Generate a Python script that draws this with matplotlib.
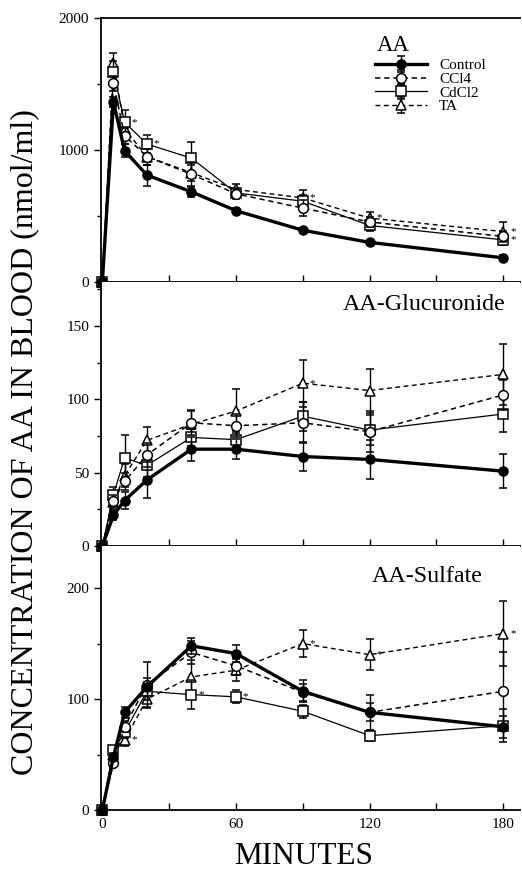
import matplotlib
matplotlib.use("Agg")
import matplotlib.pyplot as plt
from matplotlib.ticker import MultipleLocator

plt.rcParams['font.family'] = ['Liberation Serif', 'DejaVu Serif']

times = [0, 5, 10, 20, 40, 60, 90, 120, 180]
series_names = ["Control", "CCl4", "CdCl2", "TA"]

# Panel 1: AA
aa_control = [0, 1363, 994, 810, 683, 540, 392, 300, 183]
aa_ccl4 = [0, 1504, 1108, 950, 816, 668, 560, 455, 345]
aa_cdcl2 = [0, 1592, 1210, 1045, 938, 675, 612, 428, 319]
aa_ta = [0, 1657, 1160, 950, 828, 701, 637, 484, 382]
aa_control_err = [0, 40, 50, 80, 40, 20, 20, 20, 20]
aa_ccl4_err = [0, 60, 60, 60, 90, 40, 60, 40, 40]
aa_cdcl2_err = [0, 80, 90, 65, 120, 30, 50, 40, 40]
aa_ta_err = [0, 80, 70, 60, 60, 40, 60, 50, 75]

# Panel 2: AA-Glucuronide
glu_control = [0, 21, 31, 45, 66, 66, 61, 59, 51]
glu_ccl4 = [0, 31, 44, 62, 84, 82, 84, 78, 103]
glu_cdcl2 = [0, 35, 60, 55, 74, 72.5, 88.5, 79, 90]
glu_ta = [0, 30, 48, 72, 83, 92, 111, 106, 117]
glu_control_err = [0, 3, 6, 12, 8, 7, 10, 13, 11.5]
glu_ccl4_err = [0, 4, 6, 8, 8, 8, 14, 14, 10]
glu_cdcl2_err = [0, 5, 16, 8, 6, 6, 10, 10, 12]
glu_ta_err = [0, 5, 8, 9, 10, 15, 16, 15, 21]

# Panel 3: AA-Sulfate
sul_control = [0, 48, 88, 111, 148, 141, 107, 88, 75]
sul_ccl4 = [0, 42, 75, 113, 142, 130, 106, 88, 107]
sul_cdcl2 = [0, 54, 70, 107, 104, 102, 89, 67, 76]
sul_ta = [0, 50, 63, 100, 120, 126, 150, 140, 159]
sul_control_err = [0, 3, 5, 8, 7, 8, 10, 8, 10]
sul_ccl4_err = [0, 3, 5, 20, 10, 8, 8, 16, 35]
sul_cdcl2_err = [0, 4, 5, 8, 13, 6, 6, 5, 15]
sul_ta_err = [0, 4, 5, 8, 15, 10, 12, 14, 29]

# significance marks: (series index, time index)
aa_stars = [(2, 2), (2, 3), (3, 6), (3, 7), (3, 8), (2, 8)]
glu_stars = [(3, 6)]
sul_stars = [(3, 2), (2, 4), (2, 5), (3, 6), (3, 7), (3, 8)]

styles = [
    dict(ls='-', lw=2.4, marker='o', mfc='black', ms=6.5),
    dict(ls=(0, (3.5, 2.5)), lw=1.1, marker='o', mfc='white', ms=7),
    dict(ls='-', lw=0.9, marker='s', mfc='white', ms=7),
    dict(ls=(0, (3.5, 2.5)), lw=1.0, marker='^', mfc='white', ms=7),
]
zorders = [5, 4.2, 4.1, 4.0]

fig = plt.figure(figsize=(5.22, 8.72), dpi=100)
left, width = 0.1935, 0.8026
ax1 = fig.add_axes([left, 0.6766, width, 0.3028])
ax2 = fig.add_axes([left, 0.3739, width, 0.3027])
ax3 = fig.add_axes([left, 0.0711, width, 0.3028])

panels = [
    (ax1, [aa_control, aa_ccl4, aa_cdcl2, aa_ta],
     [aa_control_err, aa_ccl4_err, aa_cdcl2_err, aa_ta_err], aa_stars,
     (0, 2000), 500, [0, 1000, 2000]),
    (ax2, [glu_control, glu_ccl4, glu_cdcl2, glu_ta],
     [glu_control_err, glu_ccl4_err, glu_cdcl2_err, glu_ta_err], glu_stars,
     (0, 180), 25, [0, 50, 100, 150]),
    (ax3, [sul_control, sul_ccl4, sul_cdcl2, sul_ta],
     [sul_control_err, sul_ccl4_err, sul_cdcl2_err, sul_ta_err], sul_stars,
     (0, 238), 50, [0, 100, 200]),
]

for ax, data, errs, stars, ylim, minor, yt in panels:
    for k in [3, 2, 1, 0]:
        st = styles[k]
        ax.errorbar(times, data[k], yerr=errs[k], color='black',
                    ecolor='black', elinewidth=1.0, capsize=3, capthick=1.0,
                    mec='black', mew=1.1, zorder=zorders[k], clip_on=False,
                    label=series_names[k], **st)
    for (k, i) in stars:
        ax.annotate('*', (times[i], data[k][i]), xytext=(5, 0),
                    textcoords='offset points', fontsize=8, va='center', ha='left')
    ax.set_xlim(-0.6, 187.5)
    ax.set_ylim(*ylim)
    ax.set_yticks(yt)
    ax.yaxis.set_minor_locator(MultipleLocator(minor))
    ax.set_xticks([0, 60, 120, 180])
    ax.xaxis.set_minor_locator(MultipleLocator(30))
    ax.tick_params(axis='x', which='both', direction='in', length=5, width=1,
                   labelsize=11, pad=6)
    ax.tick_params(axis='y', which='major', direction='out', length=5, width=1,
                   labelsize=11)
    ax.tick_params(axis='y', which='minor', direction='out', length=3, width=1)
    ax.spines['right'].set_visible(False)
    for s in ['left', 'bottom', 'top']:
        ax.spines[s].set_linewidth(1.3)
    if ax is not ax1:
        ax.spines['top'].set_visible(False)
    if ax is not ax3:
        ax.tick_params(axis='x', labelbottom=False)

ax1.text(0.658, 0.935, 'AA', transform=ax1.transAxes, fontsize=16.5, va='top', ha='left')
ax2.text(0.965, 0.955, 'AA-Glucuronide', transform=ax2.transAxes, fontsize=17.3,
         va='top', ha='right')
ax3.text(0.912, 0.925, 'AA-Sulfate', transform=ax3.transAxes, fontsize=17.3,
         va='top', ha='right')

h, l = ax1.get_legend_handles_labels()
order = [l.index(n) for n in series_names]
leg = ax1.legend([h[i] for i in order], [l[i] for i in order],
                 loc='upper left', bbox_to_anchor=(0.654, 0.846), frameon=False,
                 fontsize=11, handlelength=3.4, labelspacing=0.0,
                 handletextpad=0.8, borderpad=0.0, borderaxespad=0)

fig.text(0.048, 0.4925, 'CONCENTRATION OF AA IN BLOOD (nmol/ml)', rotation=90,
         fontsize=23, va='center', ha='center')
fig.text(0.582, 0.009, 'MINUTES', fontsize=22.5, va='baseline', ha='center')

fig.savefig('out.png', dpi=100, facecolor='white')
